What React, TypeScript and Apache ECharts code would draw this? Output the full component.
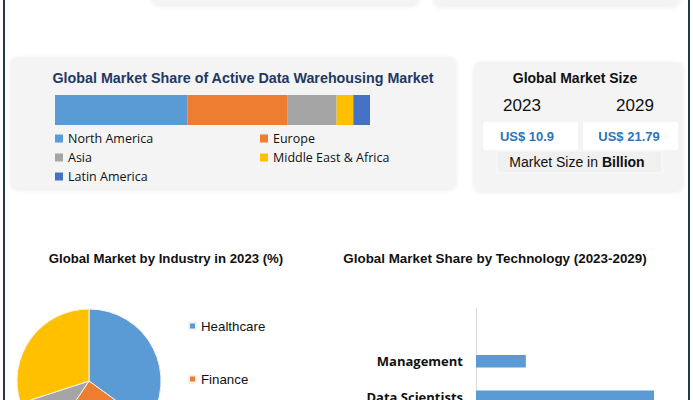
import React, { useEffect, useRef } from "react";
import * as echarts from "echarts";

const regions = ["North America", "Europe", "Asia", "Middle East & Africa", "Latin America"];
const regionShare = [42, 31.7, 15.7, 5.3, 5.3];
const regionColors = ["#5B9BD5", "#ED7D31", "#A5A5A5", "#FFC000", "#4472C4"];

const industries = ["Healthcare", "Finance", "Retail", "Others"];
const industryShare = [35, 24.4, 10.6, 30];
const industryColors = ["#5B9BD5", "#ED7D31", "#A5A5A5", "#FFC000"];

const technologies = ["", "Management", "Data Scientists"];
const techShare: (number | null)[] = [null, 14, 50];

const marketYears = ["2023", "2029"];
const marketSize = [10.9, 21.79];

const FONT = "Liberation Sans";

export default function App() {
  const ref = useRef<HTMLDivElement>(null);
  useEffect(() => {
    if (!ref.current) return;
    const chart = echarts.init(ref.current, null, { renderer: "svg" });

    const stackSeries = regions.map((r, i) => ({
      name: r,
      type: "bar",
      stack: "total",
      xAxisIndex: 0,
      yAxisIndex: 0,
      barWidth: 30,
      itemStyle: { color: regionColors[i] },
      data: [regionShare[i]],
    }));

    const boxes = marketYears.map((y, i) => [
      {
        type: "rect",
        shape: { x: i === 0 ? 483 : 583, y: 122, width: 95, height: 28, r: 2 },
        style: { fill: "#FFFFFF" },
        z: 1,
      },
      {
        type: "text",
        style: {
          text: y,
          x: i === 0 ? 522 : 635,
          y: 105,
          align: "center",
          verticalAlign: "middle",
          font: `17px "${FONT}"`,
          fill: "#111111",
        },
        z: 2,
      },
      {
        type: "text",
        style: {
          text: `US$ ${marketSize[i]}`,
          x: i === 0 ? 527 : 629,
          y: 136,
          align: "center",
          verticalAlign: "middle",
          font: `bold 13px "${FONT}"`,
          fill: "#2E75B6",
        },
        z: 2,
      },
    ]).flat();

    chart.setOption({
      animation: false,
      backgroundColor: "#FFFFFF",
      graphic: [
        { type: "rect", shape: { x: 3, y: 0, width: 2, height: 400 }, style: { fill: "#1F3A4D" } },
        { type: "rect", shape: { x: 688, y: 0, width: 2, height: 400 }, style: { fill: "#1F3A4D" } },
        {
          type: "rect",
          shape: { x: 152, y: -20, width: 267, height: 25, r: 6 },
          style: { fill: "#F4F4F4", shadowBlur: 4, shadowColor: "rgba(0,0,0,0.08)", shadowOffsetY: 1 },
        },
        {
          type: "rect",
          shape: { x: 434, y: -20, width: 245, height: 26, r: 6 },
          style: { fill: "#F4F4F4", shadowBlur: 4, shadowColor: "rgba(0,0,0,0.08)", shadowOffsetY: 1 },
        },
        {
          type: "rect",
          shape: { x: 11, y: 57, width: 445, height: 132, r: 6 },
          style: { fill: "#F4F4F4", shadowBlur: 4, shadowColor: "rgba(0,0,0,0.08)", shadowOffsetY: 1 },
          z: 0,
        },
        {
          type: "rect",
          shape: { x: 474, y: 62, width: 209, height: 129, r: 6 },
          style: { fill: "#F4F4F4", shadowBlur: 4, shadowColor: "rgba(0,0,0,0.08)", shadowOffsetY: 1 },
          z: 0,
        },
        {
          type: "text",
          style: {
            text: "Global Market Share of Active Data Warehousing Market",
            x: 243,
            y: 78,
            align: "center",
            verticalAlign: "middle",
            font: `bold 14.3px "${FONT}"`,
            fill: "#1F3864",
          },
        },
        {
          type: "text",
          style: {
            text: "Global Market Size",
            x: 575,
            y: 78,
            align: "center",
            verticalAlign: "middle",
            font: `bold 14px "${FONT}"`,
            fill: "#111111",
          },
        },
        ...boxes,
        {
          type: "rect",
          shape: { x: 497, y: 151, width: 165, height: 22 },
          style: { fill: "#F0F0F0", stroke: "#FAFAFA", lineWidth: 1 },
          z: 1,
        },
        {
          type: "text",
          style: {
            text: "{a|Market Size in }{b|Billion}",
            x: 577,
            y: 162,
            align: "center",
            verticalAlign: "middle",
            rich: {
              a: { fontFamily: FONT, fontSize: 14, fill: "#111111" },
              b: { fontFamily: FONT, fontSize: 14, fontWeight: "bold", fill: "#111111" },
            },
          },
          z: 2,
        },
        {
          type: "text",
          style: {
            text: "Global Market by Industry in 2023 (%)",
            x: 166,
            y: 258,
            align: "center",
            verticalAlign: "middle",
            font: `bold 13.2px "${FONT}"`,
            fill: "#111111",
          },
        },
        {
          type: "text",
          style: {
            text: "Global Market Share by Technology (2023-2029)",
            x: 495,
            y: 258,
            align: "center",
            verticalAlign: "middle",
            font: `bold 13.4px "${FONT}"`,
            fill: "#111111",
          },
        },
      ],
      legend: [
        {
          data: ["North America", "Asia", "Latin America"],
          orient: "vertical",
          left: 55,
          top: 129,
          icon: "rect",
          itemWidth: 8,
          itemHeight: 8,
          itemGap: 0,
          textStyle: { fontFamily: "Open Sans", fontSize: 12.5, color: "#111", lineHeight: 19 },
          padding: 0,
        },
        {
          data: ["Europe", "Middle East & Africa"],
          orient: "vertical",
          left: 260,
          top: 129,
          icon: "rect",
          itemWidth: 8,
          itemHeight: 8,
          itemGap: 0,
          textStyle: { fontFamily: "Open Sans", fontSize: 12.5, color: "#111", lineHeight: 19 },
          padding: 0,
        },
        {
          data: ["Healthcare", "Finance"],
          orient: "vertical",
          left: 188,
          top: 316,
          icon: "rect",
          itemWidth: 7,
          itemHeight: 7,
          itemGap: 33,
          textStyle: { fontFamily: FONT, fontSize: 13.3, color: "#111", lineHeight: 20 },
          padding: 0,
        },
      ],
      grid: [
        { left: 55, top: 95, width: 315, height: 30 },
        { left: 476, top: 308, width: 178, height: 106.5, outerBoundsMode: "none", containLabel: false },
      ],
      xAxis: [
        { gridIndex: 0, type: "value", min: 0, max: 100, show: false },
        { gridIndex: 1, type: "value", min: 0, max: 50, show: false },
      ],
      yAxis: [
        { gridIndex: 0, type: "category", data: ["Share"], show: false },
        {
          gridIndex: 1,
          type: "category",
          data: technologies,
          inverse: true,
          axisLine: { show: true, lineStyle: { color: "#D9D9D9", width: 1 } },
          axisTick: { show: false },
          axisLabel: {
            fontFamily: "Open Sans",
            fontWeight: "bold",
            fontSize: 13,
            color: "#111",
            margin: 13,
          },
        },
      ],
      series: [
        ...stackSeries,
        {
          name: "Technology",
          type: "bar",
          xAxisIndex: 1,
          yAxisIndex: 1,
          barWidth: 12.5,
          itemStyle: { color: "#5B9BD5" },
          data: techShare,
        },
        {
          name: "Industry",
          type: "pie",
          center: [89, 381],
          radius: 72,
          startAngle: 90,
          clockwise: true,
          label: { show: false },
          labelLine: { show: false },
          itemStyle: { borderColor: "#F2F2F2", borderWidth: 1 },
          data: industries.map((n, i) => ({
            name: n,
            value: industryShare[i],
            itemStyle: { color: industryColors[i] },
          })),
        },
      ],
    });
    return () => chart.dispose();
  }, []);
  return (
    <div
      ref={ref}
      style={{ position: "absolute", left: 0, top: 0, width: 693, height: 400 }}
    />
  );
}
